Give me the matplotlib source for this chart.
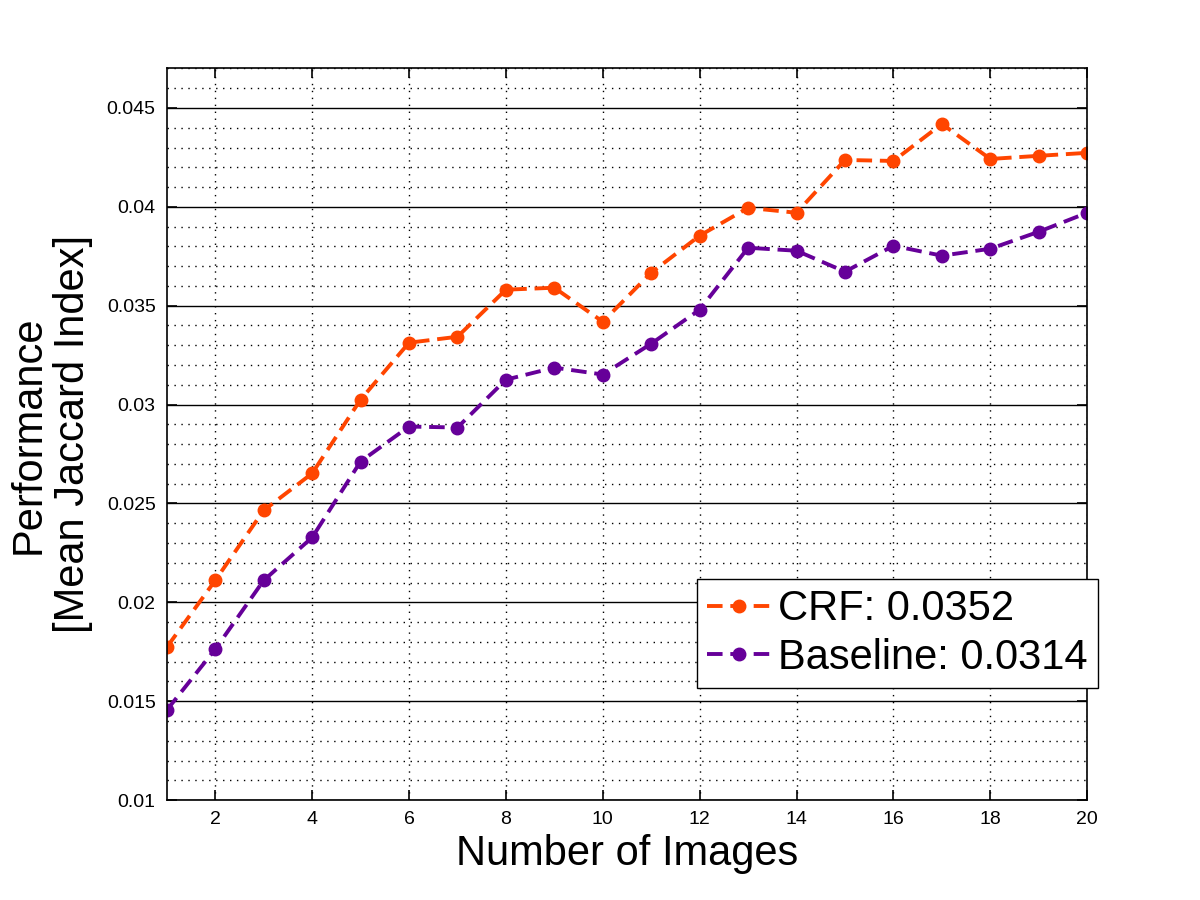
import matplotlib
matplotlib.use("Agg")
import matplotlib.pyplot as plt
from matplotlib.ticker import MultipleLocator

plt.rcParams['font.family'] = ['Liberation Sans', 'DejaVu Sans']

# dados
num_imagens = list(range(1, 21))
crf = [0.01773, 0.02111, 0.02465, 0.02652, 0.03025, 0.03313, 0.03343, 0.03581, 0.03591, 0.03419,
       0.03667, 0.03854, 0.03995, 0.03970, 0.04237, 0.04232, 0.04419, 0.04242, 0.04258, 0.04273]
baseline = [0.01455, 0.01763, 0.02111, 0.02328, 0.02712, 0.02889, 0.02884, 0.03126, 0.03187, 0.03152,
            0.03308, 0.03480, 0.03793, 0.03778, 0.03672, 0.03803, 0.03753, 0.03788, 0.03874, 0.03970]
rotulos = ["CRF: 0.0352", "Baseline: 0.0314"]

fig = plt.figure(figsize=(12, 9), dpi=100)
ax = fig.add_axes([0.139, 0.111, 0.767, 0.813])

estilo = dict(linestyle=(0, (4, 2)), linewidth=2.8, marker='o', markersize=9)
ax.plot(num_imagens, crf, color='#FF4500', label=rotulos[0], **estilo)
ax.plot(num_imagens, baseline, color='#660099', label=rotulos[1], **estilo)

ax.set_xlim(1, 20)
ax.set_ylim(0.01, 0.047)
ax.xaxis.set_major_locator(MultipleLocator(2))
ax.yaxis.set_major_locator(MultipleLocator(0.005))
ax.yaxis.set_minor_locator(MultipleLocator(0.001))
ax.set_yticklabels([f"{v:g}" for v in ax.get_yticks()])

# grade estilo MATLAB
ax.grid(True, axis='y', which='major', color='black', linestyle='-', linewidth=1.0)
ax.grid(True, axis='y', which='minor', color='black', linestyle=(0, (1, 4)), linewidth=1.0)
ax.grid(True, axis='x', which='major', color='black', linestyle=(0, (1, 4)), linewidth=1.0)
ax.set_axisbelow(True)

ax.tick_params(which='both', direction='in', top=True, right=True, labelsize=14, width=1.2)
ax.tick_params(which='major', length=7, pad=8)
ax.tick_params(which='minor', length=0)
for s in ax.spines.values():
    s.set_linewidth(1.2)

ax.set_xlabel("Number of Images", fontsize=30, labelpad=4)
ax.set_ylabel("Performance\n[Mean Jaccard Index]", fontsize=30, linespacing=1.15, labelpad=10)

leg = ax.legend(loc='lower left', bbox_to_anchor=(697 / 1200, 1 - 688 / 900), bbox_transform=fig.transFigure,
                fontsize=30, fancybox=False, framealpha=1, edgecolor='black', handlelength=1.5,
                borderpad=0.25, labelspacing=0.2, handletextpad=0.2, borderaxespad=0)
leg.get_frame().set_linewidth(1.0)

fig.savefig("out.png", dpi=100)
